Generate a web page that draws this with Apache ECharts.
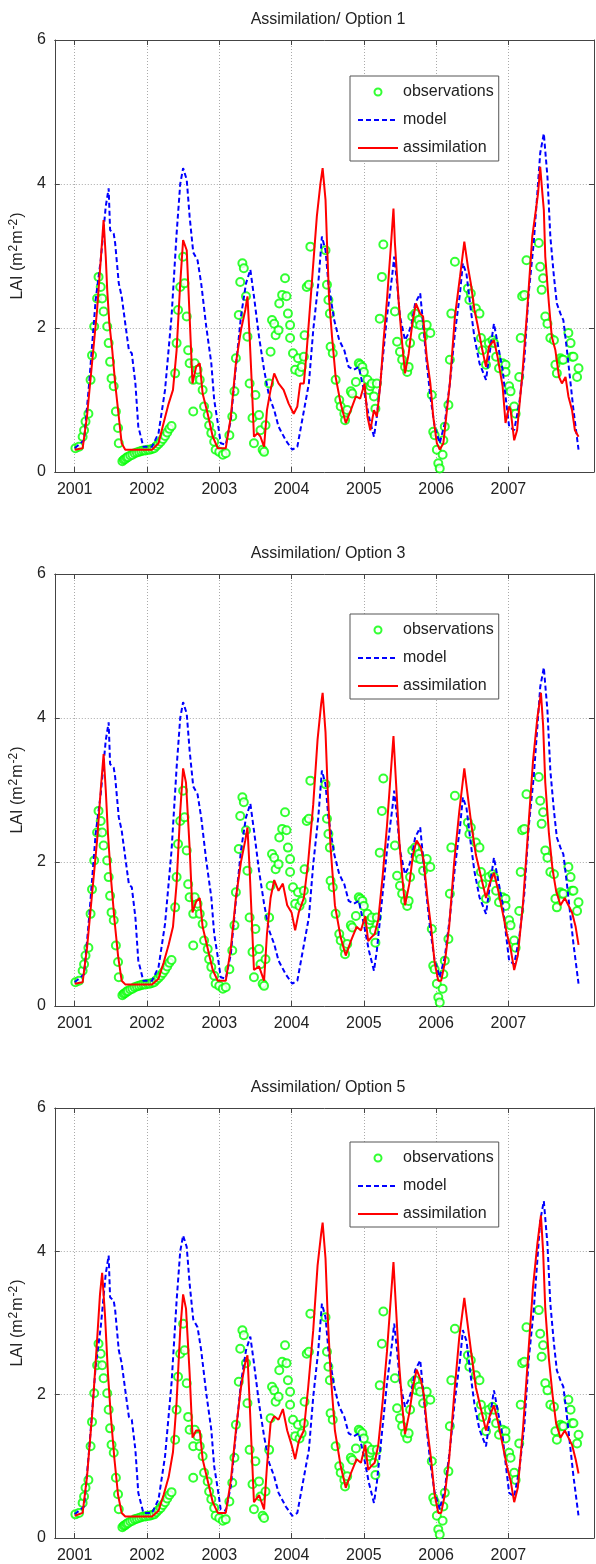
<!DOCTYPE html>
<html><head><meta charset="utf-8">
<script src="https://cdn.jsdelivr.net/npm/echarts@6/dist/echarts.min.js"></script>
<style>html,body{margin:0;padding:0;background:#fff}#c{width:596px;height:1564px}</style>
</head><body><div id="c"></div>
<script>
const years = [2001, 2002, 2003, 2004, 2005, 2006, 2007];
const yTicks = [0, 2, 4, 6];
const titles = ['Assimilation/ Option 1', 'Assimilation/ Option 3', 'Assimilation/ Option 5'];
const seriesNames = ['observations', 'model', 'assimilation'];

const observations = [[2001.01,0.33],[2001.06,0.35],[2001.11,0.49],[2001.13,0.58],[2001.15,0.70],[2001.19,0.81],[2001.22,1.28],[2001.24,1.62],[2001.27,2.02],[2001.31,2.41],[2001.33,2.71],[2001.36,2.57],[2001.38,2.41],[2001.40,2.23],[2001.45,2.02],[2001.47,1.79],[2001.49,1.53],[2001.51,1.30],[2001.54,1.19],[2001.57,0.84],[2001.60,0.61],[2001.61,0.40],
[2001.66,0.15],[2001.68,0.17],[2001.70,0.18],[2001.72,0.20],[2001.74,0.21],[2001.77,0.23],[2001.80,0.24],[2001.83,0.26],[2001.86,0.27],[2001.89,0.28],[2001.92,0.29],[2001.95,0.30],[2001.98,0.30],[2002.01,0.31],[2002.04,0.31],[2002.07,0.32],[2002.10,0.33],[2002.13,0.36],[2002.16,0.39],[2002.19,0.42],[2002.22,0.46],[2002.25,0.50],[2002.28,0.55],[2002.31,0.60],[2002.34,0.64],
[2002.39,1.37],[2002.41,1.79],[2002.43,2.25],[2002.46,2.57],[2002.50,2.99],[2002.52,2.62],[2002.55,2.16],[2002.57,1.69],[2002.59,1.51],[2002.64,1.28],[2002.64,0.84],[2002.66,1.51],[2002.70,1.42],[2002.73,1.28],[2002.77,1.14],[2002.79,0.91],[2002.84,0.79],[2002.86,0.65],[2002.89,0.54],[2002.93,0.42],[2002.95,0.31],[2003.00,0.28],[2003.05,0.24],[2003.09,0.26],[2003.14,0.51],[2003.18,0.77],[2003.21,1.12],[2003.23,1.58],[2003.27,2.18],[2003.29,2.64],[2003.32,2.90],[2003.34,2.83],[2003.37,2.44],[2003.39,1.88],[2003.42,1.23],[2003.46,0.75],[2003.48,0.40],[2003.50,1.07],[2003.55,0.79],[2003.57,0.58],[2003.60,0.31],[2003.62,0.28],[2003.64,0.65],[2003.69,1.23],[2003.71,1.67],[2003.73,2.11],[2003.76,2.06],[2003.78,1.90],[2003.82,1.97],[2003.83,2.34],[2003.87,2.46],[2003.91,2.69],[2003.93,2.44],[2003.95,2.20],[2003.98,2.04],[2003.98,1.86],[2004.02,1.65],[2004.05,1.42],[2004.09,1.58],[2004.11,1.39],[2004.14,1.46],[2004.17,1.60],[2004.18,1.90],[2004.21,2.57],[2004.24,2.60],[2004.26,3.13],
[2004.47,3.08],[2004.49,2.60],[2004.51,2.39],[2004.53,2.20],[2004.54,1.74],[2004.57,1.65],[2004.61,1.28],[2004.66,1.00],[2004.68,0.91],[2004.73,0.81],[2004.74,0.72],[2004.77,0.86],[2004.82,1.12],[2004.84,1.09],[2004.89,1.25],[2004.93,1.51],[2004.95,1.49],[2004.98,1.46],[2005.00,1.39],[2005.05,1.28],[2005.07,1.14],[2005.09,1.19],[2005.11,1.23],[2005.14,1.05],[2005.16,0.88],[2005.18,1.23],[2005.22,2.13],[2005.25,2.71],[2005.27,3.16],
[2005.43,2.23],[2005.46,1.81],[2005.50,1.67],[2005.53,1.56],[2005.57,1.46],[2005.60,1.39],[2005.62,1.46],[2005.64,1.79],[2005.67,2.16],[2005.71,2.20],[2005.73,2.06],[2005.76,2.11],[2005.78,2.04],[2005.82,1.88],[2005.87,2.04],[2005.92,1.93],[2005.94,1.07],[2005.96,0.56],[2005.98,0.51],[2006.01,0.31],[2006.03,0.12],[2006.05,0.05],[2006.09,0.24],[2006.10,0.44],[2006.12,0.63],[2006.17,0.93],[2006.19,1.56],[2006.21,2.20],[2006.26,2.92],
[2006.44,2.55],[2006.46,2.39],[2006.48,2.48],[2006.55,2.27],[2006.60,2.20],[2006.62,1.86],[2006.64,1.69],[2006.69,1.49],[2006.73,1.79],[2006.78,1.83],[2006.80,1.79],[2006.83,1.60],[2006.87,1.44],[2006.92,1.51],[2006.96,1.49],[2006.96,1.39],[2007.01,1.19],[2007.03,1.12],[2007.08,0.91],[2007.10,0.81],[2007.15,1.32],[2007.17,1.86],[2007.19,2.44],[2007.22,2.46],[2007.25,2.94],
[2007.42,3.18],[2007.44,2.85],[2007.46,2.53],[2007.48,2.69],[2007.51,2.16],[2007.54,2.06],[2007.58,1.86],[2007.63,1.83],[2007.65,1.49],[2007.67,1.37],[2007.72,1.58],[2007.74,1.56],[2007.76,1.56],[2007.83,1.93],[2007.86,1.79],[2007.88,1.60],[2007.90,1.60],[2007.95,1.32],[2007.97,1.44]];

const model = [[2001.00,0.33],[2001.13,0.44],[2001.20,1.23],[2001.29,2.39],[2001.36,2.94],[2001.43,3.69],[2001.47,3.94],[2001.49,3.36],[2001.54,3.31],[2001.56,3.18],[2001.61,2.62],[2001.65,2.44],[2001.70,2.06],[2001.75,1.69],[2001.79,1.65],[2001.84,1.23],[2001.88,0.63],[2001.95,0.35],[2002.07,0.35],[2002.16,0.54],[2002.25,1.14],[2002.34,2.16],[2002.41,3.31],[2002.46,4.00],[2002.50,4.22],[2002.55,4.06],[2002.59,3.55],[2002.64,3.05],[2002.70,2.94],[2002.75,2.62],[2002.82,2.02],[2002.89,1.51],[2002.93,1.00],[2002.98,0.68],[2003.02,0.40],[2003.09,0.38],[2003.16,0.72],[2003.23,1.46],[2003.30,2.16],[2003.37,2.62],[2003.43,2.81],[2003.48,2.44],[2003.55,1.88],[2003.62,1.42],[2003.69,1.05],[2003.76,0.86],[2003.82,0.63],[2003.92,0.44],[2004.01,0.31],[2004.08,0.35],[2004.14,0.68],[2004.24,1.23],[2004.30,1.97],[2004.37,2.62],[2004.42,3.27],[2004.47,3.08],[2004.51,2.62],[2004.59,2.11],[2004.66,1.83],[2004.73,1.69],[2004.79,1.46],[2004.86,1.42],[2004.93,1.46],[2005.00,1.14],[2005.07,0.77],[2005.14,0.49],[2005.18,0.77],[2005.25,1.46],[2005.32,2.16],[2005.39,2.71],[2005.42,2.99],[2005.46,2.62],[2005.50,2.16],[2005.57,1.83],[2005.62,1.93],[2005.66,2.06],[2005.71,2.34],[2005.78,2.48],[2005.82,2.06],[2005.87,1.51],[2005.92,1.05],[2005.98,0.63],[2006.05,0.40],[2006.12,0.68],[2006.19,1.23],[2006.26,1.93],[2006.33,2.48],[2006.37,2.90],[2006.42,2.75],[2006.48,2.25],[2006.53,1.87],[2006.60,1.51],[2006.69,1.28],[2006.76,1.79],[2006.80,2.06],[2006.85,1.79],[2006.92,1.42],[2006.96,1.05],[2007.01,0.63],[2007.08,0.58],[2007.15,0.95],[2007.22,1.56],[2007.28,2.48],[2007.35,3.18],[2007.40,3.87],[2007.44,4.43],[2007.49,4.70],[2007.54,4.10],[2007.58,3.27],[2007.63,2.71],[2007.67,2.34],[2007.72,2.20],[2007.76,2.11],[2007.81,1.69],[2007.86,1.23],[2007.90,0.86],[2007.97,0.31]];

const assimilation1 = [[2001.00,0.31],[2001.11,0.33],[2001.17,0.77],[2001.24,1.51],[2001.31,2.25],[2001.36,2.94],[2001.40,3.50],[2001.43,2.99],[2001.45,2.53],[2001.48,2.06],[2001.52,1.69],[2001.56,1.23],[2001.61,0.77],[2001.65,0.40],[2001.70,0.31],[2001.84,0.31],[2002.07,0.31],[2002.16,0.40],[2002.23,0.68],[2002.30,0.95],[2002.36,1.14],[2002.41,1.69],[2002.46,2.62],[2002.50,3.22],[2002.55,3.08],[2002.59,2.16],[2002.63,1.23],[2002.68,1.46],[2002.73,1.51],[2002.77,1.09],[2002.84,0.81],[2002.91,0.49],[2002.98,0.33],[2003.09,0.33],[2003.16,0.77],[2003.23,1.51],[2003.30,1.97],[2003.36,2.25],[2003.39,2.44],[2003.42,1.88],[2003.45,1.23],[2003.48,0.49],[2003.53,0.54],[2003.57,0.49],[2003.62,0.35],[2003.66,0.86],[2003.71,1.14],[2003.76,1.37],[2003.82,1.23],[2003.89,1.14],[2003.96,0.95],[2004.03,0.81],[2004.08,0.91],[2004.12,1.23],[2004.17,1.23],[2004.21,1.69],[2004.28,2.62],[2004.35,3.55],[2004.40,4.01],[2004.43,4.22],[2004.47,3.78],[2004.49,3.20],[2004.52,2.39],[2004.56,1.88],[2004.61,1.32],[2004.68,0.95],[2004.75,0.68],[2004.82,0.86],[2004.89,1.05],[2004.95,1.02],[2005.01,1.23],[2005.05,0.77],[2005.09,0.58],[2005.14,0.86],[2005.18,0.77],[2005.23,1.23],[2005.27,1.79],[2005.32,2.39],[2005.37,3.08],[2005.41,3.66],[2005.43,3.18],[2005.48,2.39],[2005.53,1.79],[2005.57,1.37],[2005.62,1.64],[2005.67,2.06],[2005.72,2.34],[2005.78,2.20],[2005.82,2.16],[2005.87,1.60],[2005.92,1.23],[2005.96,0.77],[2006.01,0.40],[2006.05,0.31],[2006.10,0.40],[2006.14,0.77],[2006.19,1.23],[2006.26,2.16],[2006.33,2.71],[2006.39,3.20],[2006.44,2.85],[2006.48,2.62],[2006.53,2.25],[2006.57,2.06],[2006.64,1.69],[2006.69,1.46],[2006.73,1.74],[2006.80,1.83],[2006.85,1.60],[2006.92,1.19],[2006.96,0.68],[2007.01,0.91],[2007.03,0.86],[2007.08,0.44],[2007.12,0.58],[2007.19,1.32],[2007.26,2.25],[2007.33,3.27],[2007.38,3.64],[2007.41,3.87],[2007.44,4.24],[2007.47,3.87],[2007.49,3.64],[2007.51,2.99],[2007.56,2.34],[2007.60,1.88],[2007.65,1.69],[2007.70,1.32],[2007.74,1.23],[2007.79,1.32],[2007.83,1.05],[2007.88,0.86],[2007.92,0.58],[2007.97,0.49]];

const assimilation3 = [[2001.00,0.31],[2001.11,0.33],[2001.17,0.80],[2001.24,1.55],[2001.31,2.30],[2001.36,3.00],[2001.40,3.50],[2001.43,3.00],[2001.46,2.40],[2001.50,1.80],[2001.55,1.20],[2001.60,0.70],[2001.65,0.35],[2001.70,0.30],[2002.07,0.30],[2002.16,0.38],[2002.23,0.60],[2002.30,0.85],[2002.36,1.10],[2002.41,1.70],[2002.46,2.70],[2002.50,3.30],[2002.54,3.10],[2002.59,2.20],[2002.63,1.30],[2002.68,1.45],[2002.73,1.50],[2002.77,1.10],[2002.84,0.80],[2002.91,0.50],[2002.98,0.35],[2003.09,0.35],[2003.16,0.80],[2003.23,1.50],[2003.30,2.00],[2003.36,2.30],[2003.39,2.48],[2003.42,1.90],[2003.45,1.20],[2003.48,0.50],[2003.55,0.55],[2003.62,0.35],[2003.66,1.00],[2003.71,1.50],[2003.76,1.75],[2003.82,1.60],[2003.88,1.70],[2003.94,1.40],[2004.00,1.30],[2004.05,1.05],[2004.10,1.30],[2004.17,1.50],[2004.23,2.00],[2004.30,2.80],[2004.36,3.70],[2004.41,4.20],[2004.43,4.35],[2004.47,3.80],[2004.50,3.00],[2004.54,2.20],[2004.60,1.40],[2004.68,0.95],[2004.75,0.70],[2004.82,0.90],[2004.90,1.10],[2004.96,1.05],[2005.02,1.25],[2005.06,0.90],[2005.10,0.95],[2005.15,1.00],[2005.20,1.20],[2005.26,1.80],[2005.32,2.50],[2005.37,3.20],[2005.41,3.75],[2005.44,3.20],[2005.49,2.30],[2005.54,1.70],[2005.57,1.40],[2005.63,1.70],[2005.68,2.10],[2005.73,2.30],[2005.79,2.20],[2005.83,2.00],[2005.88,1.50],[2005.93,1.10],[2005.98,0.60],[2006.03,0.35],[2006.07,0.35],[2006.12,0.60],[2006.18,1.10],[2006.25,2.00],[2006.32,2.70],[2006.39,3.30],[2006.44,2.90],[2006.49,2.50],[2006.55,2.10],[2006.62,1.80],[2006.69,1.50],[2006.74,1.70],[2006.80,1.85],[2006.86,1.60],[2006.92,1.30],[2006.98,1.00],[2007.03,0.80],[2007.08,0.50],[2007.13,0.70],[2007.20,1.40],[2007.27,2.40],[2007.34,3.40],[2007.40,4.00],[2007.45,4.35],[2007.48,3.90],[2007.51,3.10],[2007.56,2.40],[2007.61,1.90],[2007.66,1.60],[2007.72,1.40],[2007.78,1.50],[2007.83,1.40],[2007.88,1.30],[2007.93,1.10],[2007.97,0.85]];

const assimilation5 = [[2001.00,0.31],[2001.11,0.35],[2001.17,0.85],[2001.24,1.70],[2001.30,2.60],[2001.35,3.40],[2001.38,3.70],[2001.42,3.10],[2001.46,2.30],[2001.50,1.70],[2001.55,1.10],[2001.60,0.60],[2001.65,0.35],[2001.70,0.30],[2002.07,0.30],[2002.16,0.38],[2002.23,0.60],[2002.30,0.85],[2002.36,1.20],[2002.41,1.90],[2002.46,2.90],[2002.50,3.40],[2002.54,3.20],[2002.59,2.30],[2002.63,1.40],[2002.68,1.50],[2002.73,1.50],[2002.77,1.10],[2002.84,0.80],[2002.91,0.50],[2002.98,0.35],[2003.09,0.35],[2003.16,0.80],[2003.23,1.50],[2003.30,2.10],[2003.36,2.45],[2003.39,2.55],[2003.42,1.90],[2003.45,1.20],[2003.48,0.50],[2003.55,0.60],[2003.62,0.40],[2003.66,1.00],[2003.71,1.60],[2003.76,1.70],[2003.82,1.65],[2003.88,1.80],[2003.94,1.50],[2004.00,1.30],[2004.05,1.10],[2004.10,1.35],[2004.17,1.50],[2004.23,2.10],[2004.30,2.90],[2004.36,3.80],[2004.41,4.25],[2004.43,4.40],[2004.47,3.90],[2004.50,3.10],[2004.54,2.30],[2004.60,1.50],[2004.68,1.00],[2004.75,0.70],[2004.82,0.90],[2004.90,1.10],[2004.96,1.05],[2005.02,1.30],[2005.06,0.95],[2005.10,1.00],[2005.15,1.05],[2005.20,1.30],[2005.26,1.90],[2005.32,2.60],[2005.37,3.30],[2005.41,3.85],[2005.44,3.30],[2005.49,2.40],[2005.54,1.75],[2005.57,1.45],[2005.63,1.75],[2005.68,2.10],[2005.73,2.35],[2005.79,2.20],[2005.83,2.00],[2005.88,1.50],[2005.93,1.10],[2005.98,0.60],[2006.03,0.35],[2006.07,0.35],[2006.12,0.60],[2006.18,1.10],[2006.25,2.00],[2006.32,2.80],[2006.39,3.35],[2006.44,2.95],[2006.49,2.55],[2006.55,2.10],[2006.62,1.80],[2006.69,1.50],[2006.74,1.70],[2006.80,1.85],[2006.86,1.60],[2006.92,1.30],[2006.98,1.00],[2007.03,0.80],[2007.08,0.50],[2007.13,0.70],[2007.20,1.50],[2007.27,2.50],[2007.34,3.50],[2007.40,4.10],[2007.45,4.50],[2007.48,4.00],[2007.51,3.20],[2007.56,2.50],[2007.61,2.00],[2007.66,1.60],[2007.72,1.40],[2007.78,1.50],[2007.83,1.40],[2007.88,1.30],[2007.93,1.10],[2007.97,0.90]];

const assimilations = [assimilation1, assimilation3, assimilation5];

// layout
const X_MIN = 2000.725, X_MAX = 2008.184;
const gridTops = [40, 574, 1108];
const legendTops = [76, 614, 1142];
const FONT = 'Liberation Sans, Arial, Helvetica, sans-serif';
const AX = '#444';
const GRIDC = '#aaa';

const option = {
  animation: false,
  textStyle: { fontFamily: FONT },
  title: [], grid: [], xAxis: [], yAxis: [], legend: [], series: []
};

for (let p = 0; p < 3; p++) {
  option.title.push({ text: titles[p], left: 323, top: gridTops[p] - 33, textAlign: 'center',
    textStyle: { fontFamily: FONT, fontSize: 16, fontWeight: 'normal', color: '#222' } });
  option.grid.push({ left: 51, top: gridTops[p], width: 543, height: 432 });
  const xb = option.xAxis.length;
  option.xAxis.push({ type: 'value', gridIndex: p, position: 'bottom', min: X_MIN, max: X_MAX,
    axisLine: { show: true, onZero: false, lineStyle: { color: AX, width: 1 } },
    axisTick: { show: true, inside: true, length: 5, customValues: years, lineStyle: { color: AX } },
    axisLabel: { show: true, customValues: years, formatter: v => String(Math.round(v)), fontSize: 16, color: '#222', margin: 10, fontFamily: FONT },
    splitLine: { show: true, lineStyle: { color: GRIDC, type: [1, 2], width: 1 } } });
  option.xAxis.push({ type: 'value', gridIndex: p, position: 'top', min: X_MIN, max: X_MAX,
    axisLine: { show: true, onZero: false, lineStyle: { color: AX, width: 1 } },
    axisTick: { show: true, inside: true, length: 5, customValues: years, lineStyle: { color: AX } },
    axisLabel: { show: false }, splitLine: { show: false } });
  const yl = option.yAxis.length;
  option.yAxis.push({ type: 'value', gridIndex: p, position: 'left', min: 0, max: 6, interval: 2,
    name: 'LAI (m{sup|2}m{sup|-2})', nameLocation: 'middle', nameGap: 23, nameRotate: 90,
    nameTextStyle: { fontSize: 16, color: '#222', fontFamily: FONT, rich: { sup: { fontSize: 12, verticalAlign: 'top', padding: [0, 1, 8, 1], color: '#222', fontFamily: FONT } } },
    axisLine: { show: true, onZero: false, lineStyle: { color: AX, width: 1 } },
    axisTick: { show: true, inside: true, length: 5, lineStyle: { color: AX } },
    axisLabel: { fontSize: 16, color: '#222', margin: 9, fontFamily: FONT },
    splitLine: { show: true, lineStyle: { color: GRIDC, type: [1, 2], width: 1 } } });
  option.yAxis.push({ type: 'value', gridIndex: p, position: 'right', min: 0, max: 6, interval: 2,
    axisLine: { show: true, onZero: false, lineStyle: { color: AX, width: 1 } },
    axisTick: { show: true, inside: true, length: 5, lineStyle: { color: AX } },
    axisLabel: { show: false }, splitLine: { show: false } });

  option.series.push({ name: seriesNames[1], type: 'line', xAxisIndex: xb, yAxisIndex: yl, data: model,
    symbol: 'none', lineStyle: { color: '#0000ff', width: 2, type: [5, 3] }, itemStyle: { color: '#0000ff' }, z: 3 });
  option.series.push({ name: seriesNames[0], type: 'scatter', xAxisIndex: xb, yAxisIndex: yl, data: observations,
    symbol: 'emptyCircle', symbolSize: 8, itemStyle: { color: '#00ff00', borderColor: '#00ee00', borderWidth: 1.4 }, z: 2 });
  option.series.push({ name: seriesNames[2], type: 'line', xAxisIndex: xb, yAxisIndex: yl, data: assimilations[p],
    symbol: 'none', lineStyle: { color: '#ff0000', width: 2 }, itemStyle: { color: '#ff0000' }, z: 4 });

  option.legend.push({ orient: 'vertical', left: 350, top: legendTops[p], itemWidth: 40, itemHeight: 7, itemGap: 10,
    backgroundColor: '#fff', borderColor: '#555', borderWidth: 1, borderRadius: 0, padding: [7, 5, 4, 7],
    selectedMode: false,
    textStyle: { fontSize: 16, color: '#222', fontFamily: FONT, lineHeight: 18 },
    data: [
      { name: seriesNames[0] },
      { name: seriesNames[1], itemStyle: { opacity: 0 } },
      { name: seriesNames[2], itemStyle: { opacity: 0 } }
    ] });
}

const chart = echarts.init(document.getElementById('c'), null, { renderer: 'canvas' });
chart.setOption(option);
</script></body></html>
